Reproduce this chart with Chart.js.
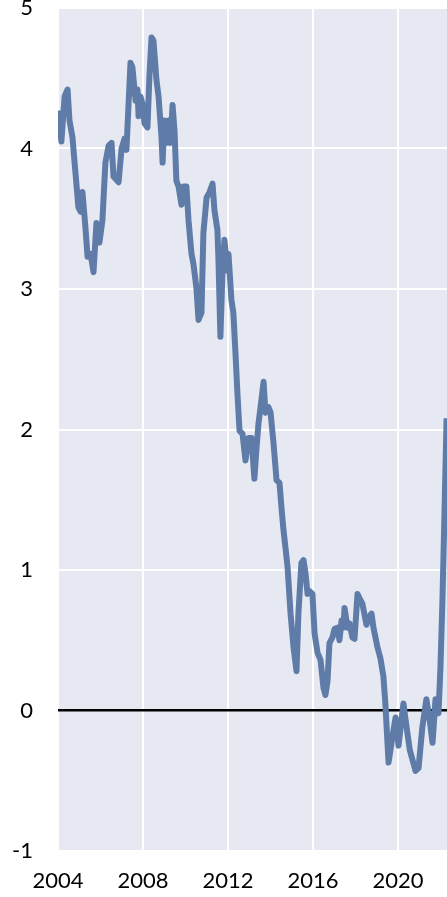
<!DOCTYPE html>
<html>
<head>
<meta charset="utf-8">
<script src="https://cdn.jsdelivr.net/npm/chart.js@4/dist/chart.umd.min.js"></script>
<style>
  html, body { margin: 0; padding: 0; background: #ffffff; }
  #wrap { width: 447px; height: 897px; }
</style>
</head>
<body>
<div id="wrap"><canvas id="c" width="447" height="897"></canvas></div>
<script>
// Dates (decimal years) and values
const dates = [
  2004.00, 2004.16, 2004.31, 2004.45, 2004.54, 2004.68, 2004.78, 2004.96, 2005.06, 2005.15,
  2005.29, 2005.39, 2005.53, 2005.67, 2005.81, 2005.95, 2006.09, 2006.23, 2006.38, 2006.52,
  2006.61, 2006.85, 2006.99, 2007.13, 2007.22, 2007.32, 2007.41, 2007.50, 2007.65, 2007.74,
  2007.79, 2007.88, 2007.97, 2008.07, 2008.21, 2008.30, 2008.40, 2008.49, 2008.63, 2008.73,
  2008.87, 2008.92, 2009.01, 2009.10, 2009.20, 2009.29, 2009.39, 2009.48, 2009.57, 2009.67,
  2009.81, 2009.90, 2010.04, 2010.14, 2010.28, 2010.37, 2010.51, 2010.61, 2010.75, 2010.84,
  2010.99, 2011.13, 2011.27, 2011.36, 2011.50, 2011.55, 2011.64, 2011.74, 2011.83, 2011.97,
  2012.02, 2012.16, 2012.25, 2012.35, 2012.44, 2012.54, 2012.68, 2012.82, 2012.96, 2013.10,
  2013.24, 2013.34, 2013.43, 2013.57, 2013.67, 2013.76, 2013.90, 2014.00, 2014.14, 2014.28,
  2014.42, 2014.51, 2014.61, 2014.70, 2014.80, 2014.94, 2015.08, 2015.22, 2015.31, 2015.45,
  2015.55, 2015.64, 2015.74, 2015.83, 2015.97, 2016.07, 2016.21, 2016.35, 2016.49, 2016.58,
  2016.68, 2016.77, 2016.91, 2017.01, 2017.15, 2017.24, 2017.34, 2017.43, 2017.48, 2017.62,
  2017.71, 2017.85, 2017.95, 2018.09, 2018.18, 2018.32, 2018.51, 2018.61, 2018.75, 2018.84,
  2019.03, 2019.17, 2019.31, 2019.40, 2019.55, 2019.73, 2019.88, 2020.02, 2020.25, 2020.40,
  2020.55, 2020.82, 2020.96, 2021.14, 2021.33, 2021.47, 2021.62, 2021.76, 2021.90, 2021.99,
  2022.08, 2022.15, 2022.21, 2022.28
];
const values = [
  4.27, 4.05, 4.37, 4.42, 4.20, 4.08, 3.90, 3.58, 3.55, 3.69,
  3.44, 3.23, 3.25, 3.12, 3.47, 3.33, 3.49, 3.90, 4.02, 4.04,
  3.80, 3.76, 4.00, 4.07, 3.99, 4.32, 4.61, 4.58, 4.34, 4.42,
  4.23, 4.37, 4.32, 4.18, 4.15, 4.51, 4.79, 4.77, 4.49, 4.37,
  4.08, 3.90, 4.20, 4.04, 4.20, 4.04, 4.31, 4.13, 3.77, 3.73,
  3.60, 3.73, 3.73, 3.49, 3.25, 3.18, 3.01, 2.78, 2.83, 3.40,
  3.65, 3.69, 3.75, 3.56, 3.42, 3.20, 2.66, 3.13, 3.35, 3.13,
  3.25, 2.92, 2.83, 2.54, 2.26, 1.99, 1.97, 1.78, 1.94, 1.94,
  1.65, 1.87, 2.04, 2.21, 2.34, 2.12, 2.16, 2.12, 1.90, 1.64,
  1.62, 1.45, 1.28, 1.16, 1.02, 0.69, 0.45, 0.28, 0.69, 1.05,
  1.07, 0.98, 0.83, 0.85, 0.83, 0.55, 0.41, 0.36, 0.16, 0.11,
  0.21, 0.48, 0.52, 0.58, 0.59, 0.50, 0.64, 0.59, 0.73, 0.59,
  0.62, 0.52, 0.51, 0.83, 0.80, 0.76, 0.61, 0.66, 0.69, 0.59,
  0.45, 0.37, 0.24, 0.05, -0.37, -0.19, -0.05, -0.25, 0.05, -0.12,
  -0.28, -0.43, -0.41, -0.12, 0.08, -0.05, -0.23, 0.08, -0.02, 0.30,
  0.75, 1.20, 1.60, 2.08
];
const xTickLabels = [2004, 2008, 2012, 2016, 2020];
const yTickLabels = [-1, 0, 1, 2, 3, 4, 5];

const points = dates.map((d, i) => ({ x: d, y: values[i] }));

const plotBg = {
  id: 'plotBg',
  beforeDraw(chart) {
    const a = chart.chartArea, ctx = chart.ctx;
    ctx.save();
    ctx.fillStyle = '#e6e9f1';
    ctx.fillRect(a.left, a.top, a.right - a.left, a.bottom - a.top);
    ctx.restore();
  }
};

new Chart(document.getElementById('c'), {
  type: 'line',
  data: {
    datasets: [{
      data: points,
      borderColor: '#5f7ca9',
      borderWidth: 6,
      pointRadius: 0,
      tension: 0,
      fill: false,
      clip: 0,
      borderJoinStyle: 'round',
      borderCapStyle: 'butt'
    }]
  },
  options: {
    responsive: false,
    devicePixelRatio: 1,
    animation: false,
    layout: { padding: { top: 8, right: 0, left: 0, bottom: 0 } },
    plugins: { legend: { display: false }, tooltip: { enabled: false } },
    scales: {
      x: {
        type: 'linear',
        min: 2004,
        max: 2022.3,
        afterBuildTicks(scale) { scale.ticks = xTickLabels.map(v => ({ value: v })); },
        afterFit(scale) { scale.height = 46; scale.paddingLeft = 0; scale.paddingRight = 0; },
        grid: { color: '#ffffff', lineWidth: 2, drawTicks: false },
        border: { display: false },
        ticks: {
          padding: 17,
          color: '#000000',
          font: { family: 'Lato', size: 22 },
          maxRotation: 0,
          autoSkip: false,
          callback: v => String(v)
        }
      },
      y: {
        type: 'linear',
        min: -1,
        max: 5,
        afterBuildTicks(scale) { scale.ticks = yTickLabels.map(v => ({ value: v })); },
        afterFit(scale) { scale.width = 58; scale.paddingTop = 0; scale.paddingBottom = 0; },
        grid: {
          color: c => (c.tick && c.tick.value === 0) ? '#000000' : '#ffffff',
          lineWidth: c => (c.tick && c.tick.value === 0) ? 2.5 : 2,
          drawTicks: false
        },
        border: { display: false },
        ticks: {
          padding: 25,
          color: '#000000',
          font: { family: 'Lato', size: 22 },
          autoSkip: false,
          callback: v => String(v)
        }
      }
    }
  },
  plugins: [plotBg]
});
</script>
</body>
</html>
